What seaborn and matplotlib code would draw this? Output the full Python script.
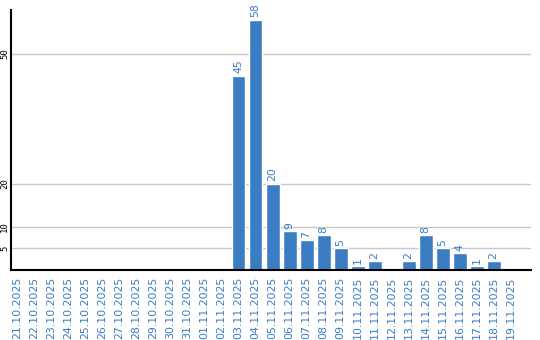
import matplotlib
matplotlib.use("Agg")
import matplotlib.pyplot as plt
import seaborn as sns
import pandas as pd

dates = ["21.10.2025", "22.10.2025", "23.10.2025", "24.10.2025", "25.10.2025",
         "26.10.2025", "27.10.2025", "28.10.2025", "29.10.2025", "30.10.2025",
         "31.10.2025", "01.11.2025", "02.11.2025", "03.11.2025", "04.11.2025",
         "05.11.2025", "06.11.2025", "07.11.2025", "08.11.2025", "09.11.2025",
         "10.11.2025", "11.11.2025", "12.11.2025", "13.11.2025", "14.11.2025",
         "15.11.2025", "16.11.2025", "17.11.2025", "18.11.2025", "19.11.2025"]
values = [0, 0, 0, 0, 0, 0, 0, 0, 0, 0, 0, 0, 0, 45, 58, 20, 9, 7, 8, 5,
          1, 2, 0, 2, 8, 5, 4, 1, 2, 0]
y_ticks = [5, 10, 20, 50]

BLUE = "#3b7dc3"

sns.set_theme(style="white")
plt.rcParams['font.family'] = ['DejaVu Sans']

df = pd.DataFrame({"date": dates, "value": values})

fig = plt.figure(figsize=(5.4, 3.4), dpi=100)
ax = fig.add_axes([11 / 540, 70 / 340, 520 / 540, 260 / 340])

sns.barplot(data=df, x="date", y="value", color=BLUE, saturation=1,
            width=0.82, ax=ax, zorder=3)

for i, v in enumerate(values):
    if v > 0:
        ax.text(i, v + 0.5, str(v), rotation=90, ha="center", va="bottom",
                color=BLUE, fontsize=7.8, zorder=4)

ax.set_xlim(-0.38, 30.2)
ax.set_ylim(0, 60.2)
ax.set_yticks(y_ticks)
ax.set_yticklabels([str(t) for t in y_ticks], rotation=90, va="center",
                   fontsize=6.5, color="black", family="DejaVu Sans Mono")
ax.yaxis.grid(True, color="#c8c8c8", linewidth=1, zorder=0)
ax.xaxis.grid(False)
ax.tick_params(axis="y", length=0, pad=1.5)
ax.tick_params(axis="x", length=0, pad=5)
ax.set_xticks(range(len(dates)))
ax.set_xticklabels(dates, rotation=90, fontsize=7.9, color=BLUE)
ax.set_xlabel("")
ax.set_ylabel("")

for s in ["top", "right"]:
    ax.spines[s].set_visible(False)
for s in ["left", "bottom"]:
    ax.spines[s].set_visible(True)
    ax.spines[s].set_color("black")
    ax.spines[s].set_linewidth(1.5)
    ax.spines[s].set_zorder(5)

fig.savefig("out.png", dpi=100)
